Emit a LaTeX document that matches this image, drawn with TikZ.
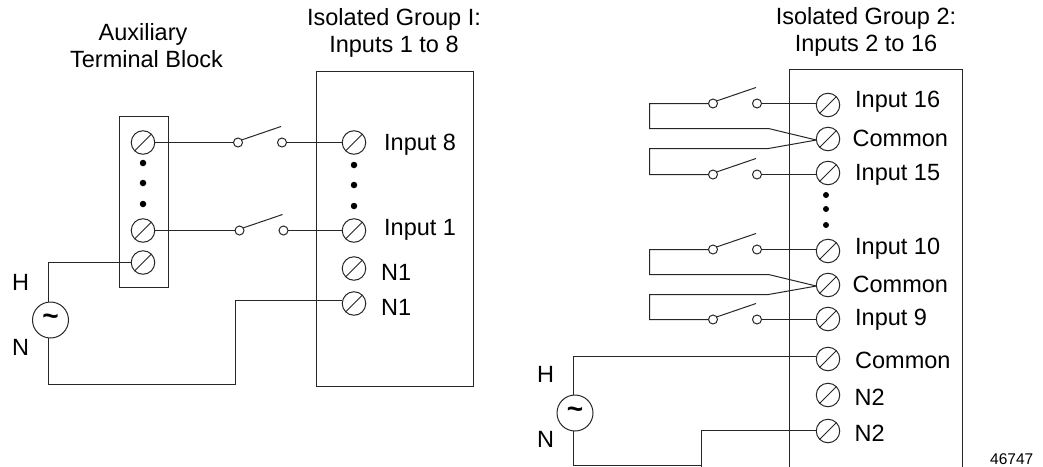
\documentclass[tikz,border=0pt]{standalone}
\usepackage{fontspec}
\setmainfont{Liberation Sans}
\tikzset{
  wire/.style={draw=black!85,line width=1pt,line join=miter},
  boxs/.style={draw=black!85,line width=1pt},
  screw/.style={circle,draw=black!85,line width=1pt,minimum size=23.5pt,inner sep=0pt,outer sep=0pt},
  contact/.style={circle,draw=black!85,line width=1pt,minimum size=9pt,inner sep=0pt,outer sep=0pt},
  src/.style={circle,draw=black!85,line width=1pt,minimum size=36pt,inner sep=0pt,outer sep=0pt},
  dotn/.style={circle,fill=black,minimum size=6.5pt,inner sep=0pt,outer sep=0pt},
  lab/.style={font=\fontsize{23.5}{27}\selectfont,inner sep=0pt,anchor=base west},
  ttl/.style={font=\fontsize{23.5}{27}\selectfont,inner sep=0pt,align=center}
}
\newcommand{\myscrew}[3]{\node[screw] (#1) at (#2,#3) {};
  \draw[wire] (#1.225) -- (#1.45);}
\newcommand{\myswitch}[3]{%
  \node[contact] (#1a) at (#2,#3) {};
  \node[contact] (#1b) at (#2+44,#3) {};
  \coordinate (#1t) at (#2+43,#3-16);
  \draw[wire] (#1a.35) -- (#1t);}
\newcommand{\mytilde}{\fontsize{28}{28}\selectfont\raisebox{1pt}{\textbf{\char"7E}}}
\begin{document}
\begin{tikzpicture}[x=1pt,y=-1pt]
\useasboundingbox (0,0) rectangle (1043,466);
% boxes
\node[boxs,minimum width=157pt,minimum height=315pt,inner sep=0pt,outer sep=0pt] (grpA) at (395,229) {};
\node[boxs,minimum width=49pt,minimum height=171pt,inner sep=0pt,outer sep=0pt] (blk) at (144,202) {};
\path[boxs] (789.5,467) coordinate (gbl) -- (789.5,69.5) coordinate (gtl) -- (962.5,69.5) coordinate (gtr) -- (962.5,467) coordinate (gbr);
% titles
\node[ttl] (t1) at (146.5,46) {\hspace*{-7pt}Auxiliary\\Terminal Block};
\node[ttl] (t2) at (394,32.5) {Isolated Group I:\\Inputs 1 to 8};
\node[ttl] (t3) at (866,32) {Isolated Group 2:\\Inputs 2 to 16};
% left group
\myscrew{a1}{143}{142.5}
\myscrew{a2}{143}{230.5}
\myscrew{a3}{143}{262.5}
\myscrew{b8}{354}{142.5}
\myscrew{b1}{354}{230.5}
\myscrew{bn}{354}{268.5}
\myscrew{bm}{354}{303.5}
\node[dotn] (d1) at (143,163) {};
\node[dotn] (d2) at (143,183) {};
\node[dotn] (d3) at (143,204) {};
\node[dotn] (d4) at (354,165) {};
\node[dotn] (d5) at (354,185) {};
\node[dotn] (d6) at (354,206) {};
\myswitch{sa}{238}{142.5}
\myswitch{sb}{239.5}{230.5}
\draw[wire] (a1) -- (saa);
\draw[wire] (sab) -- (b8);
\draw[wire] (a2) -- (sba);
\draw[wire] (sbb) -- (b1);
\node[src] (v1) at (50.5,320) {\mytilde};
\coordinate (v1t) at (48.5,302.2);
\coordinate (v1b) at (48.5,337.8);
\draw[wire] (a3.west) -- (48.5,262.5) -- (v1t);
\draw[wire] (v1b) -- (48.5,384.5) -- (235.5,384.5) -- (235.5,300.5) -- (bm.west |- 0,300.5);
\node[lab] (h1) at (12,290) {H};
\node[lab] (n1) at (12,355) {N};
\node[lab] (l1) at (384,150) {Input 8};
\node[lab] (l2) at (384,235) {Input 1};
\node[lab] (l3) at (381,280) {N1};
\node[lab] (l4) at (381,315) {N1};
% right group
\myscrew{c1}{828}{105}
\myscrew{c2}{828}{139}
\myscrew{c3}{828}{173}
\myscrew{c4}{828}{251}
\myscrew{c5}{828}{285}
\myscrew{c6}{828}{319}
\myscrew{c7}{828}{359}
\myscrew{c8}{828}{395}
\myscrew{c9}{828}{431}
\node[dotn,minimum size=6pt] (d7) at (826,195) {};
\node[dotn,minimum size=6pt] (d8) at (826,209) {};
\node[dotn,minimum size=6pt] (d9) at (826,225) {};
\myswitch{se}{713}{103.5}
\myswitch{sf}{713}{174.5}
\myswitch{sg}{713}{249.5}
\myswitch{sh}{713}{319.5}
\draw[wire] (seb) -- (seb -| c1.west);
\draw[wire] (sfb) -- (sfb -| c3.west);
\draw[wire] (sgb) -- (sgb -| c4.west);
\draw[wire] (shb) -- (shb -| c6.west);
\draw[wire] (sea) -- (649.5,103.5) -- (649.5,128.5) -- (768.5,128.5) -- (c2.185);
\draw[wire] (sfa) -- (649.5,174.5) -- (649.5,148.5) -- (768.5,148.5) -- (c2.185);
\draw[wire] (sga) -- (649.5,249.5) -- (649.5,274.5) -- (768.5,274.5) -- (c5.185);
\draw[wire] (sha) -- (649.5,319.5) -- (649.5,294.5) -- (768.5,294.5) -- (c5.185);
\node[src] (v2) at (575,413) {\mytilde};
\coordinate (v2t) at (573.5,395.2);
\coordinate (v2b) at (573.5,430.8);
\draw[wire] (c7.west |- 0,356.5) -- (573.5,356.5) -- (v2t);
\draw[wire] (v2b) -- (573.5,465.5) -- (701.5,465.5);
\draw[wire] (701.5,467) -- (701.5,430.5) -- (c9.west |- 0,430.5);
\node[lab] (h2) at (537,382) {H};
\node[lab] (n2) at (537,447) {N};
\node[lab] at (855,107) {Input 16};
\node[lab] at (852.5,146) {Common};
\node[lab] at (855,180) {Input 15};
\node[lab] at (855,254) {Input 10};
\node[lab] at (852.5,292) {Common};
\node[lab] at (855,325) {Input 9};
\node[lab] at (855,368) {Common};
\node[lab] at (854.5,405) {N2};
\node[lab] at (854.5,441) {N2};
\node[font=\fontsize{15.5}{18}\selectfont,inner sep=0pt,anchor=base west] (num) at (990,464) {46747};
\end{tikzpicture}
\end{document}
